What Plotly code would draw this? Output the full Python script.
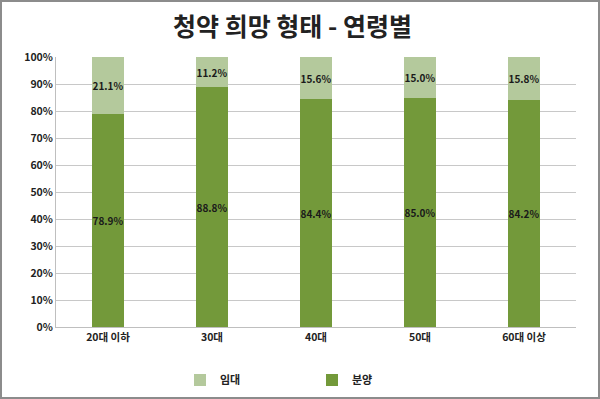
import plotly.graph_objects as go

categories = ["20대 이하", "30대", "40대", "50대", "60대 이상"]
bunyang = [78.9, 88.8, 84.4, 85.0, 84.2]
imdae = [21.1, 11.2, 15.6, 15.0, 15.8]
y_ticks = list(range(0, 101, 10))
y_tick_labels = [f"{v}%" for v in y_ticks]

font_family = "Noto Sans CJK KR, Noto Sans, sans-serif"

fig = go.Figure()
fig.add_trace(go.Bar(
    x=categories, y=bunyang, name="<b>분양</b>",
    marker=dict(color="#73993a", line=dict(width=0)),
    text=[f"<b>{v:.1f}%</b>" for v in bunyang], textposition="inside",
    insidetextanchor="middle", constraintext="none", textangle=0,
    textfont=dict(size=10, color="#1a1a1a", family=font_family),
))
fig.add_trace(go.Bar(
    x=categories, y=imdae, name="<b>임대</b>",
    marker=dict(color="#b4c99c", line=dict(width=0)),
    text=[f"<b>{v:.1f}%</b>" for v in imdae], textposition="inside",
    insidetextanchor="middle", constraintext="none", textangle=0,
    textfont=dict(size=10, color="#1a1a1a", family=font_family),
))

fig.update_layout(
    barmode="stack",
    bargap=0.685,
    width=600, height=399,
    margin=dict(l=56, r=24, t=57, b=72),
    paper_bgcolor="white", plot_bgcolor="white",
    title=dict(text="<b>청약 희망 형태 - 연령별</b>", x=0.4875, xanchor="center",
               y=1 - 27 / 399, yanchor="middle",
               font=dict(size=25, family=font_family, color="#222")),
    font=dict(family=font_family, color="#222"),
    legend=dict(orientation="h", xref="container", yref="container",
                x=0.300, xanchor="left", y=1 - 380 / 399, yanchor="middle",
                traceorder="reversed", font=dict(size=11),
                itemwidth=30, entrywidth=87),
    uniformtext=dict(mode=False),
    xaxis=dict(showline=True, linecolor="#bfbfbf", linewidth=1,
               tickfont=dict(size=10.5), ticks="", showgrid=False,
               tickvals=categories, ticktext=[f"<b>{c}</b>" for c in categories]),
    yaxis=dict(range=[0, 100], tickvals=y_ticks,
               ticktext=[f"<b>{t}</b>" for t in y_tick_labels],
               showgrid=True, gridcolor="#c8c8c8", gridwidth=1,
               showline=True, linecolor="#bfbfbf", linewidth=1,
               tickfont=dict(size=10.5), ticks=""),
)
# outer border of the chart image
fig.add_shape(type="rect", xref="paper", yref="paper",
              x0=-55/520, x1=1+23/520, y0=-71/270, y1=1+56/270,
              line=dict(color="#8c8c8c", width=2), fillcolor="rgba(0,0,0,0)")

fig.write_html("out.html", config={"displayModeBar": False},
               post_script="document.body.style.margin='0';")
